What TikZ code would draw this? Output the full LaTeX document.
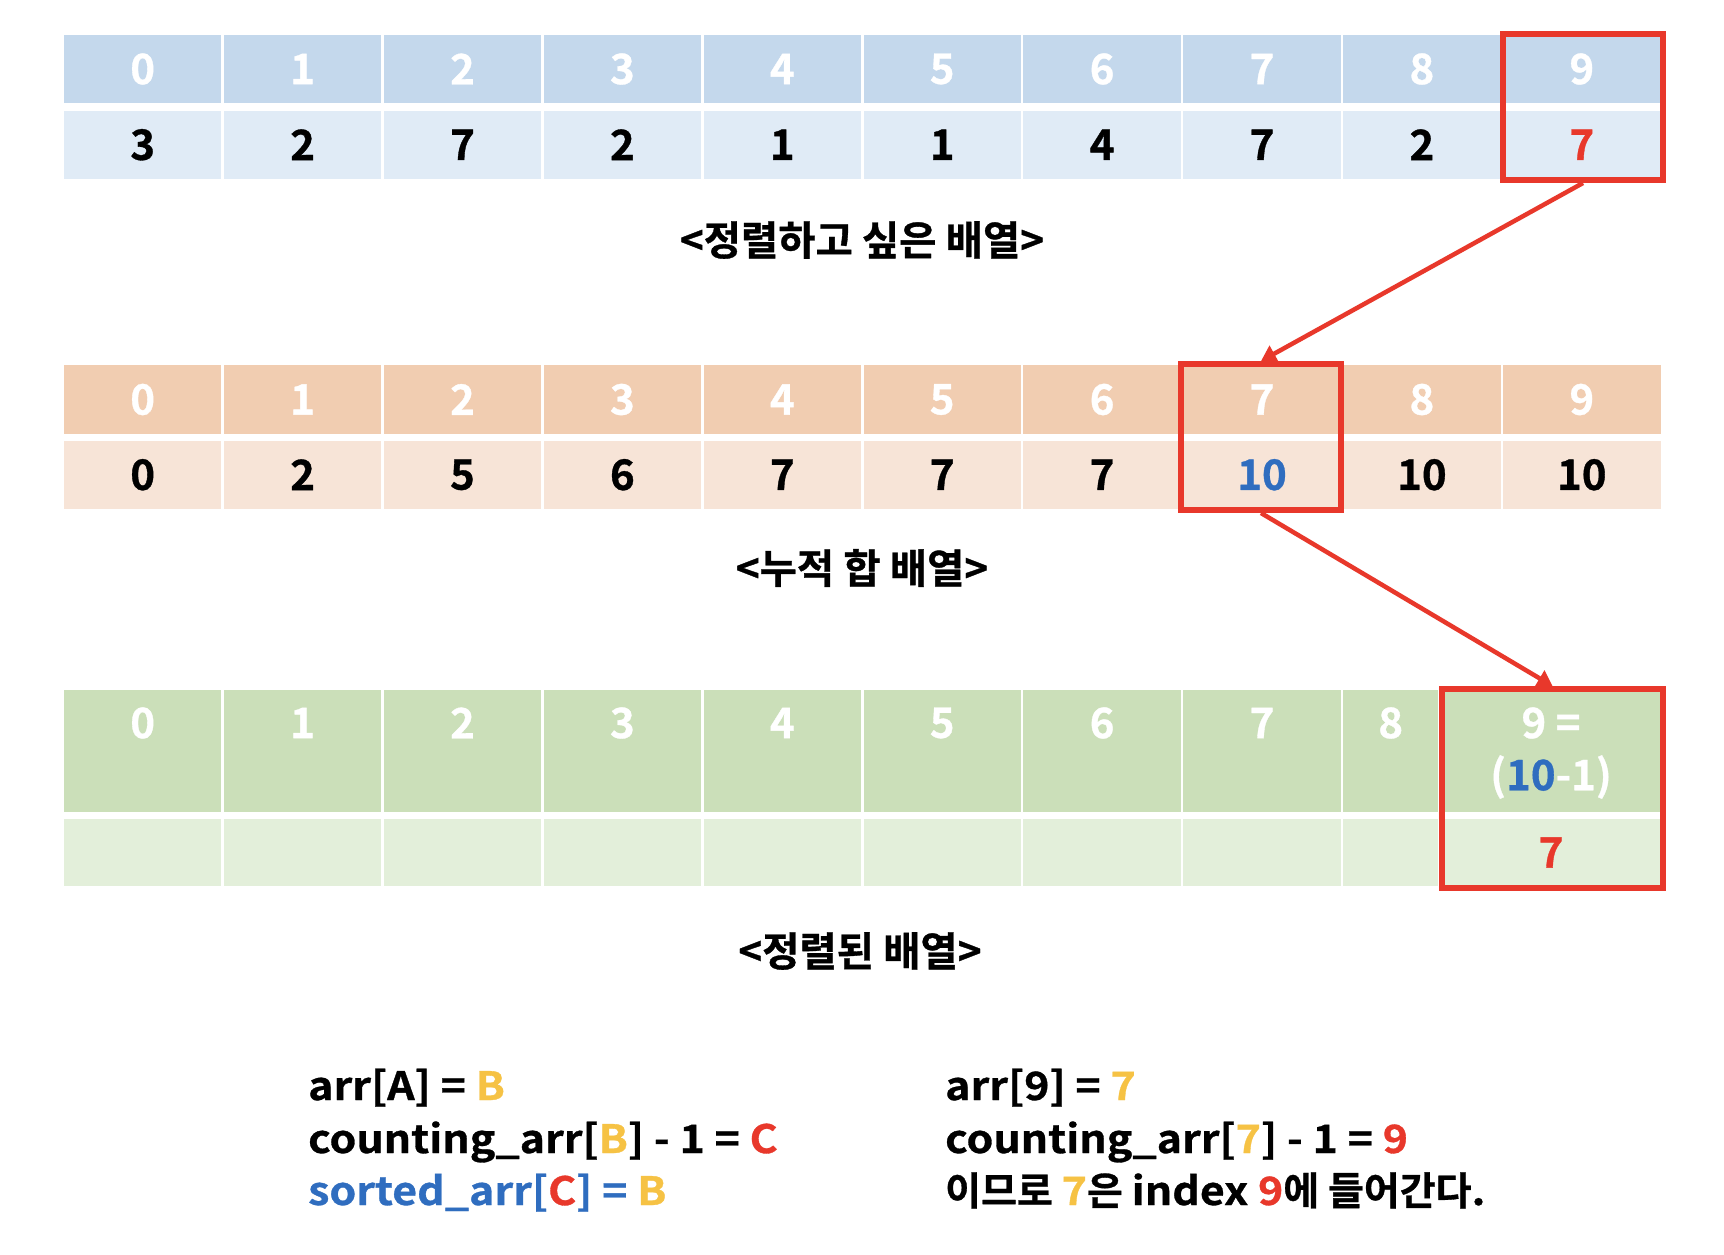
\documentclass[tikz,border=0pt]{standalone}
\usepackage{fontspec}
\setmainfont{Noto Sans CJK KR Bold}[FakeBold=0.8]
\newfontfamily\lat{Noto Sans CJK KR Bold}[FakeStretch=1.1, FakeBold=0.8]
\usetikzlibrary{arrows.meta}
\definecolor{blueH}{HTML}{C4D8EC}
\definecolor{blueV}{HTML}{E0EBF6}
\definecolor{orangeH}{HTML}{F1CDB1}
\definecolor{orangeV}{HTML}{F7E4D7}
\definecolor{greenH}{HTML}{CBDFB9}
\definecolor{greenV}{HTML}{E3EFDA}
\definecolor{redc}{HTML}{E8382B}
\definecolor{bluet}{HTML}{2F6DBF}
\definecolor{yellowc}{HTML}{F6C244}
\begin{document}
\begin{tikzpicture}[x=1pt,y=-1pt,
  cell/.style={anchor=north west, inner sep=0pt, outer sep=0pt, minimum width=157.4pt},
  hdr/.style={text=white, font=\fontsize{42}{42}\selectfont},
  val/.style={text=black, font=\fontsize{42}{42}\selectfont},
  redbox/.style={draw=redc, line width=6pt, inner sep=0pt},
  redarrow/.style={draw=redc, line width=4.5pt, -{Triangle[length=15pt,width=18pt]}},
  title/.style={inner sep=0pt, font=\fontsize{40.5}{40.5}\selectfont},
  txt/.style={anchor=base west, inner sep=0pt, font=\fontsize{39}{39}\selectfont}]
\fill[white] (0,0) rectangle (1724,1254);
\useasboundingbox (0,0) rectangle (1724,1254);
% ---------- table 1 ----------
\foreach \i in {0,...,9}{
  \node[cell, fill=blueH, minimum height=68pt, hdr] (ah\i) at ({64+\i*159.9},35) {\i};
}
\foreach \v [count=\j from 0] in {3,2,7,2,1,1,4,7,2}{
  \node[cell, fill=blueV, minimum height=68.5pt, val] (av\j) at ({64+\j*159.9},110.5) {\v};
}
\node[cell, fill=blueV, minimum height=68.5pt, val, text=redc] (av9) at ({64+9*159.9},110.5) {7};
\node[title] (t1) at (862,240) {<정렬하고 싶은 배열>};
% ---------- table 2 ----------
\foreach \i in {0,...,9}{
  \node[cell, fill=orangeH, minimum height=69pt, hdr] (bh\i) at ({64+\i*159.9},365) {\i};
}
\foreach \v [count=\j from 0] in {0,2,5,6,7,7,7}{
  \node[cell, fill=orangeV, minimum height=68.5pt, val] (bv\j) at ({64+\j*159.9},440.5) {\v};
}
\node[cell, fill=orangeV, minimum height=68.5pt, val, text=bluet] (bv7) at ({64+7*159.9},440.5) {10};
\node[cell, fill=orangeV, minimum height=68.5pt, val] (bv8) at ({64+8*159.9},440.5) {10};
\node[cell, fill=orangeV, minimum height=68.5pt, val] (bv9) at ({64+9*159.9},440.5) {10};
\node[title] (t2) at (862,568) {<누적 합 배열>};
% ---------- table 3 ----------
\foreach \i in {0,...,7}{
  \node[cell, fill=greenH, minimum height=122pt] (ch\i) at ({64+\i*159.9},690) {};
  \node[hdr, inner sep=0pt] (cl\i) at ({64+\i*159.9+78.7},723) {\i};
  \node[cell, fill=greenV, minimum height=67pt] (cv\i) at ({64+\i*159.9},819) {};
}
\node[cell, fill=greenH, minimum height=122pt, minimum width=95pt] (ch8) at (1343.2,690) {};
\node[hdr, inner sep=0pt] (cl8) at (1390.7,723) {8};
\node[cell, fill=greenV, minimum height=67pt, minimum width=95pt] (cv8) at (1343.2,819) {};
\node[cell, fill=greenH, minimum height=122pt, minimum width=221pt] (ch9) at (1440.5,690) {};
\node[hdr, inner sep=0pt] (cl9a) at (1551,723) {9 =};
\node[hdr, inner sep=0pt] (cl9b) at (1551,777) {(\textcolor{bluet}{10}-1)};
\node[cell, fill=greenV, minimum height=67pt, minimum width=221pt, val, text=redc] (cv9) at (1440.5,819) {7};
\node[title] (t3) at (860,951) {<정렬된 배열>};
% ---------- red boxes and arrows ----------
\node[redbox, minimum width=160pt, minimum height=146pt] (b1) at (1583,107) {};
\node[redbox, minimum width=160pt, minimum height=146pt] (b2) at (1261,437) {};
\node[redbox, minimum width=221pt, minimum height=199pt] (b3) at (1552.5,788.5) {};
\draw[redarrow] (b1.south) -- (b2.north);
\draw[redarrow] (b2.south) -- (b3.north);
% ---------- explanation ----------
\node[txt] (l1) at (308,1100) {\lat arr[A] = \textcolor{yellowc}{B}};
\node[txt] (l2) at (308,1153) {\lat counting\_arr[\textcolor{yellowc}{B}] - 1 = \textcolor{redc}{C}};
\node[txt, text=bluet] (l3) at (308,1205) {\lat sorted\_arr[\textcolor{redc}{C}] = \textcolor{yellowc}{B}};
\node[txt] (r1) at (945,1100) {\lat arr[9] = \textcolor{yellowc}{7}};
\node[txt] (r2) at (945,1153) {\lat counting\_arr[\textcolor{yellowc}{7}] - 1 = \textcolor{redc}{9}};
\node[txt] (r3) at (945,1205) {이므로 {\lat\textcolor{yellowc}{7}}은 {\lat index \textcolor{redc}{9}}에 들어간다{\lat .}};
\end{tikzpicture}
\end{document}
